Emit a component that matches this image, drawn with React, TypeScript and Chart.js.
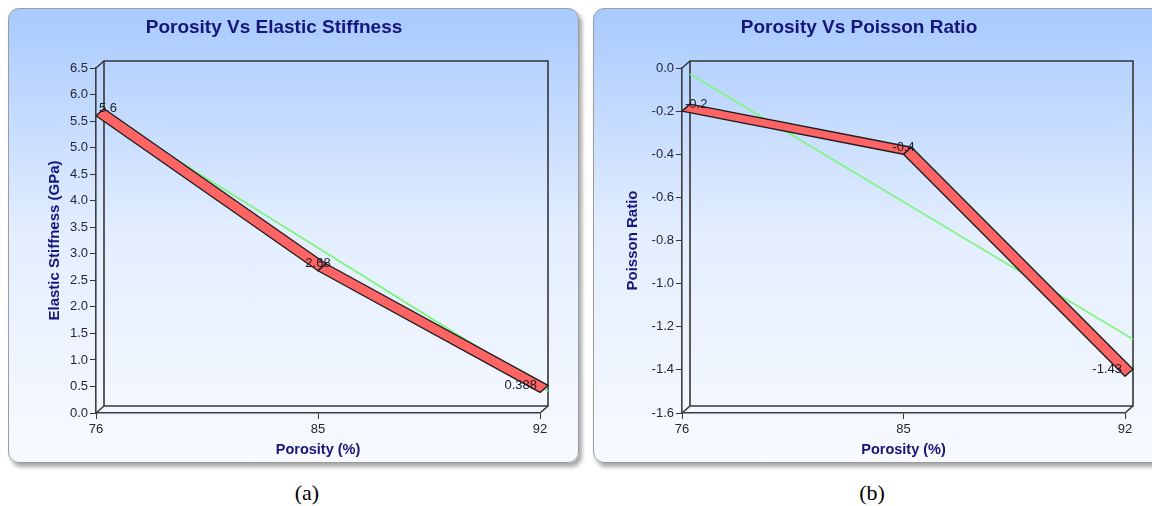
import React, { useEffect, useRef } from 'react';
import { Chart, registerables } from 'chart.js';

Chart.register(...registerables);

// ---- data ----
const porosityLabels = ['76', '85', '92'];
const stiffnessValues = [5.6, 2.68, 0.388];
const stiffnessTrend = [5.49, null, 0.28];
const poissonValues = [-0.2, -0.4, -1.43];
const poissonTrend = [-0.06, null, -1.29];
const stiffnessAxis = [0, 6.5, 0.5]; // min, max, step
const poissonAxis = [-1.6, 0, 0.2];

const DX = 8;
const DY = -7;
const FONT = '"Liberation Sans", Arial, Helvetica, sans-serif';
const NAVY = '#15157a';
const TICK_COLOR = '#262633';

const depthPlugin = {
  id: 'depth3d',
  beforeDatasetsDraw(chart: any) {
    const { ctx, chartArea: a } = chart;
    ctx.save();
    ctx.strokeStyle = '#363636';
    ctx.lineWidth = 1.6;
    ctx.beginPath();
    ctx.rect(a.left + DX, a.top + DY, a.right - a.left, a.bottom - a.top);
    ctx.moveTo(a.left, a.top);
    ctx.lineTo(a.left + DX, a.top + DY);
    ctx.moveTo(a.left, a.bottom);
    ctx.lineTo(a.left + DX, a.bottom + DY);
    ctx.moveTo(a.right, a.bottom);
    ctx.lineTo(a.right + DX, a.bottom + DY);
    ctx.stroke();
    ctx.restore();
  },
  beforeDatasetDraw(chart: any, args: any) {
    if (args.index === 1) {
      chart.ctx.save();
      chart.ctx.translate(DX, DY);
    }
  },
  afterDatasetDraw(chart: any, args: any) {
    if (args.index === 1) chart.ctx.restore();
  },
  afterDatasetsDraw(chart: any) {
    const { ctx, chartArea: a } = chart;
    const meta = chart.getDatasetMeta(0);
    const values = chart.data.datasets[0].data as number[];
    const pts = meta.data.map((p: any) => ({ x: p.x, y: p.y }));
    ctx.save();
    ctx.fillStyle = '#ff6464';
    ctx.strokeStyle = '#1e1e1e';
    ctx.lineWidth = 1.4;
    ctx.lineJoin = 'round';
    for (let i = 0; i < pts.length - 1; i++) {
      const p = pts[i];
      const q = pts[i + 1];
      ctx.beginPath();
      ctx.moveTo(p.x, p.y);
      ctx.lineTo(q.x, q.y);
      ctx.lineTo(q.x + DX, q.y + DY);
      ctx.lineTo(p.x + DX, p.y + DY);
      ctx.closePath();
      ctx.fill();
      ctx.stroke();
    }
    // value labels
    ctx.font = '13px ' + FONT;
    ctx.fillStyle = '#1c1c28';
    ctx.textBaseline = 'middle';
    ctx.textAlign = 'center';
    pts.forEach((p: any, i: number) => {
      const text = String(values[i]);
      const w = ctx.measureText(text).width;
      let x = p.x;
      x = Math.max(x, a.left + 3 + w / 2);
      x = Math.min(x, a.right - 3 - w / 2);
      ctx.fillText(text, x, p.y + DY);
    });
    ctx.restore();
  },
};

function makeConfig(
  title: string,
  yTitle: string,
  values: number[],
  trend: (number | null)[],
  axis: number[],
  yWidth: number,
  yTitlePad: number
): any {
  return {
    type: 'line',
    data: {
      labels: porosityLabels,
      datasets: [
        {
          data: values,
          borderWidth: 0,
          pointRadius: 0,
          showLine: false,
        },
        {
          data: trend,
          spanGaps: true,
          borderColor: '#80f580',
          borderWidth: 1.8,
          pointRadius: 0,
          clip: false,
        },
      ],
    },
    options: {
      responsive: false,
      animation: false,
      events: [],
      layout: { padding: { left: 0, right: 39, top: 0, bottom: 0 } },
      plugins: {
        legend: { display: false },
        tooltip: { enabled: false },
        title: {
          display: true,
          text: title,
          color: NAVY,
          font: { family: FONT, size: 19, weight: 'bold' },
          padding: { top: 8.6, bottom: 28.6 },
        },
      },
      scales: {
        x: {
          type: 'category',
          offset: false,
          grid: {
            drawOnChartArea: false,
            drawTicks: true,
            tickLength: 6,
            color: '#333',
          },
          border: { color: '#3c3c3c', width: 1.6 },
          ticks: {
            color: TICK_COLOR,
            font: { family: FONT, size: 13 },
            padding: 3,
            maxRotation: 0,
          },
          title: {
            display: true,
            text: 'Porosity (%)',
            color: NAVY,
            font: { family: FONT, size: 14.5, weight: 'bold' },
            padding: { top: 0, bottom: 4.3 },
          },
          afterFit(scale: any) {
            scale.height = 50;
          },
        },
        y: {
          min: axis[0],
          max: axis[1],
          grid: {
            drawOnChartArea: false,
            drawTicks: true,
            tickLength: 6,
            color: '#333',
          },
          border: { color: '#3c3c3c', width: 1.6 },
          ticks: {
            stepSize: axis[2],
            color: TICK_COLOR,
            font: { family: FONT, size: 13 },
            padding: 2,
            callback: (v: number) => (Math.abs(v) < 1e-9 ? 0 : v).toFixed(1),
          },
          title: {
            display: true,
            text: yTitle,
            color: NAVY,
            font: { family: FONT, size: 15, weight: 'bold' },
            padding: { top: yTitlePad, bottom: 0 },
          },
          afterFit(scale: any) {
            scale.width = yWidth;
          },
        },
      },
    },
    plugins: [depthPlugin],
  };
}

const PANEL_W = 571;
const PANEL_H = 455;

function Panel(props: { left: number; config: any }) {
  const ref = useRef<HTMLCanvasElement>(null);
  useEffect(() => {
    if (!ref.current) return;
    const chart = new Chart(ref.current, props.config);
    return () => chart.destroy();
  }, []);
  return (
    <div
      style={{
        position: 'absolute',
        left: props.left,
        top: 8,
        width: PANEL_W,
        height: PANEL_H,
        boxSizing: 'border-box',
        border: '1px solid #9c9c9c',
        borderRadius: 11,
        background: 'linear-gradient(to bottom, #a8caff 0%, #e4eeff 50%, #f7faff 100%)',
        boxShadow: '3px 4px 4px rgba(0,0,0,0.35)',
      }}
    >
      <canvas
        ref={ref}
        width={PANEL_W}
        height={PANEL_H}
        style={{ position: 'absolute', left: -1, top: -1, width: PANEL_W, height: PANEL_H }}
      />
    </div>
  );
}

const captionStyle: any = {
  position: 'absolute',
  top: 479,
  width: 60,
  textAlign: 'center',
  fontFamily: '"Liberation Serif", "Times New Roman", serif',
  fontSize: 22,
  lineHeight: '28px',
  color: '#000',
};

export default function App() {
  const cfgA = makeConfig(
    'Porosity Vs Elastic Stiffness',
    'Elastic Stiffness (GPa)',
    stiffnessValues,
    stiffnessTrend,
    stiffnessAxis,
    88,
    38
  );
  const cfgB = makeConfig(
    'Porosity Vs Poisson Ratio',
    'Poisson Ratio',
    poissonValues,
    poissonTrend,
    poissonAxis,
    89,
    31
  );
  return (
    <div
      style={{
        position: 'fixed',
        left: 0,
        top: 0,
        width: 1152,
        height: 506,
        overflow: 'hidden',
        background: '#fff',
      }}
    >
      <Panel left={8} config={cfgA} />
      <Panel left={593} config={cfgB} />
      <div style={{ ...captionStyle, left: 307 - 30 }}>(a)</div>
      <div style={{ ...captionStyle, left: 872 - 30 }}>(b)</div>
    </div>
  );
}
